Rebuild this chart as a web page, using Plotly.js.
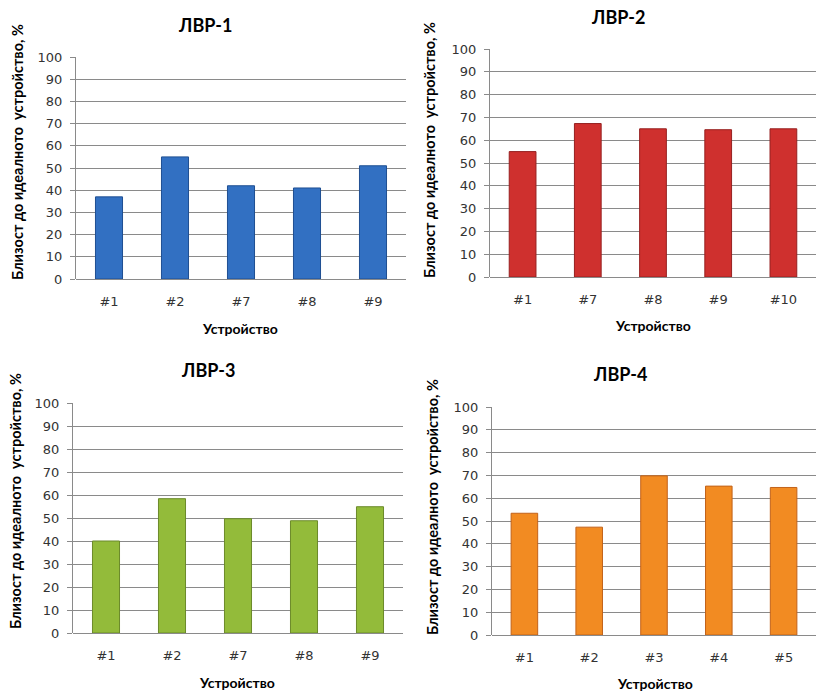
<!DOCTYPE html>
<html><head><meta charset="utf-8">
<script src="https://cdn.plot.ly/plotly-3.0.1.min.js"></script>
<style>body{margin:0;padding:0;background:#fff}#chart{width:816px;height:692px}</style>
</head><body><div id="chart"></div>
<script>
const titles = ["ЛВР-1", "ЛВР-2", "ЛВР-3", "ЛВР-4"];
const cats1 = ["#1", "#2", "#7", "#8", "#9"];
const vals1 = [37, 55, 42, 41, 51];
const cats2 = ["#1", "#7", "#8", "#9", "#10"];
const vals2 = [55, 67.3, 65, 64.6, 65];
const cats3 = ["#1", "#2", "#7", "#8", "#9"];
const vals3 = [40, 58.4, 49.7, 48.8, 54.9];
const cats4 = ["#1", "#2", "#3", "#4", "#5"];
const vals4 = [53.4, 47.3, 69.8, 65.3, 64.7];
const yTitle = "Близост до идеалното  устройство, %";
const xTitle = "Устройство";
const yTicks = [0, 10, 20, 30, 40, 50, 60, 70, 80, 90, 100];

const W = 816, H = 692;
const panels = [
  {cats: cats1, vals: vals1, color: "#3270c2", edge: "#1f4f92", x: [76, 406], y: [57, 279], title: [205, 25], ytl: [17, 152], xtl: [240, 328]},
  {cats: cats2, vals: vals2, color: "#cf302e", edge: "#962020", x: [490, 816], y: [49, 277], title: [618, 17], ytl: [430, 150], xtl: [653, 325]},
  {cats: cats3, vals: vals3, color: "#93bb3a", edge: "#6b8a2a", x: [73, 403], y: [403, 633], title: [208, 370], ytl: [15, 501], xtl: [237, 682]},
  {cats: cats4, vals: vals4, color: "#f28b22", edge: "#c2621a", x: [492, 816], y: [407, 635], title: [620, 374], ytl: [433, 507], xtl: [655, 683]}
];

const data = [];
const layout = {
  width: W, height: H, margin: {l: 0, r: 0, t: 0, b: 0},
  paper_bgcolor: "#fff", plot_bgcolor: "rgba(0,0,0,0)",
  showlegend: false, bargap: 0.59, annotations: []
};
const titleFont = {family: "Lato, 'Open Sans', sans-serif", size: 18, color: "#000", weight: "bold"};
const yLabFont = {family: "Lato, 'Open Sans', sans-serif", size: 14.5, color: "#000", weight: "bold"};
const xLabFont = {family: "Lato, 'Open Sans', sans-serif", size: 14, color: "#000", weight: "bold"};
const tickFont = {family: "'DejaVu Sans', Verdana, sans-serif", size: 13, color: "#333"};

panels.forEach((p, i) => {
  const n = i === 0 ? "" : String(i + 1);
  data.push({
    type: "bar", x: p.cats, y: p.vals, xaxis: "x" + n, yaxis: "y" + n,
    marker: {color: p.color, line: {color: p.edge, width: 1}},
    hoverinfo: "skip"
  });
  layout["xaxis" + n] = {
    domain: [p.x[0] / W, p.x[1] / W], anchor: "y" + n,
    type: "category", showgrid: false, zeroline: false, showline: false,
    ticks: "", tickfont: tickFont, ticklabelstandoff: 13, fixedrange: true
  };
  layout["yaxis" + n] = {
    domain: [1 - p.y[1] / H, 1 - p.y[0] / H], anchor: "x" + n,
    range: [0, 100], tickvals: yTicks, showgrid: true, gridcolor: "#8a8a8a", gridwidth: 1,
    zeroline: true, zerolinecolor: "#8a8a8a", zerolinewidth: 1,
    showline: true, linecolor: "#8a8a8a", linewidth: 1,
    ticks: "outside", ticklen: 5, tickcolor: "#8a8a8a",
    tickfont: tickFont, ticklabelstandoff: 5, fixedrange: true
  };
  layout.annotations.push(
    {text: titles[i], xref: "paper", yref: "paper", x: p.title[0] / W, y: 1 - p.title[1] / H,
     xanchor: "center", yanchor: "middle", showarrow: false, font: titleFont},
    {text: yTitle, xref: "paper", yref: "paper", x: p.ytl[0] / W, y: 1 - p.ytl[1] / H,
     xanchor: "center", yanchor: "middle", textangle: -90, showarrow: false, font: yLabFont},
    {text: xTitle, xref: "paper", yref: "paper", x: p.xtl[0] / W, y: 1 - p.xtl[1] / H,
     xanchor: "center", yanchor: "middle", showarrow: false, font: xLabFont}
  );
});

Plotly.newPlot("chart", data, layout, {staticPlot: true, displayModeBar: false});
</script></body></html>
